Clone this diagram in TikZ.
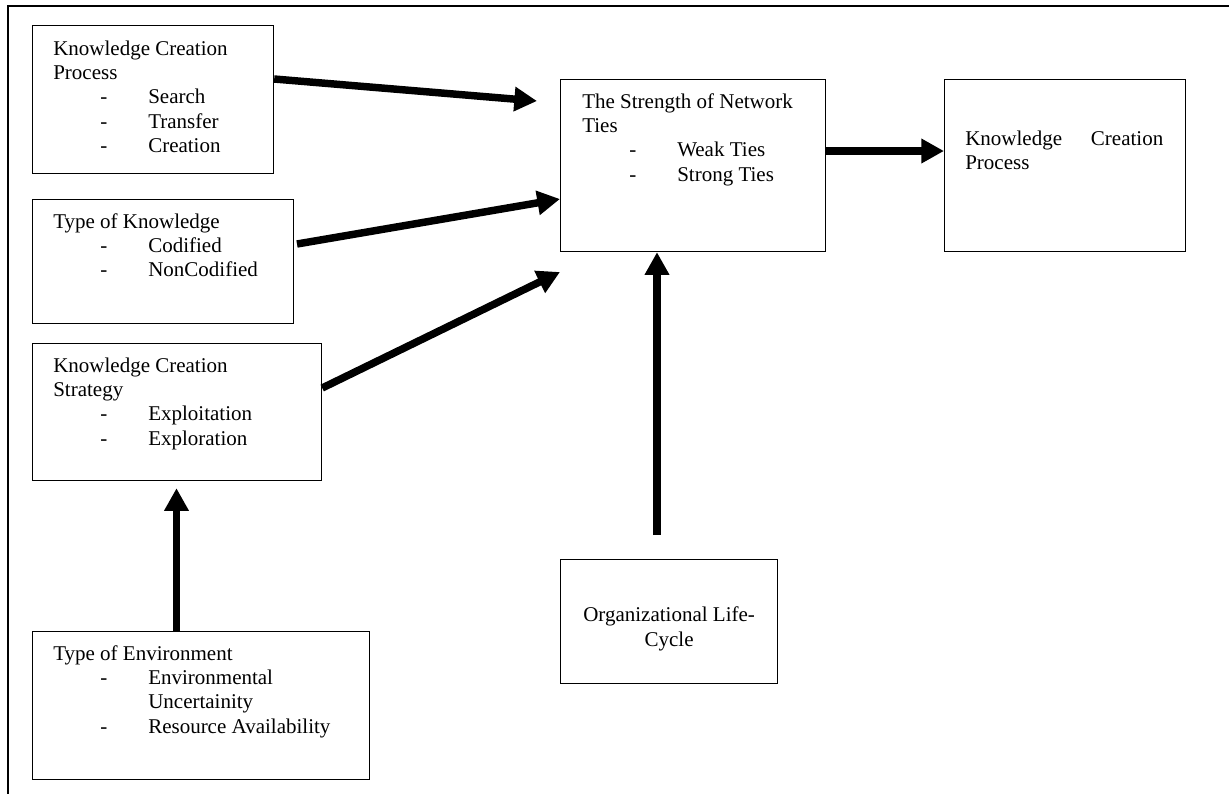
\documentclass[tikz,border=0pt]{standalone}
\usepackage{fontspec}
\setmainfont{Liberation Serif}
\usetikzlibrary{arrows.meta,calc}
\newlength\px
\setlength\px{0.75pt}
\newcommand\itm[1]{\par\noindent\makebox[95\px][l]{\hspace*{47\px}-}#1}
\newcommand\cont[1]{\par\noindent\hspace*{95\px}#1}
\begin{document}
\begin{tikzpicture}[x=0.75pt,y=-0.75pt,
  box/.style={draw, line width=0.9pt, inner sep=0pt, anchor=north west},
  txt/.style={inner sep=0pt, anchor=base west, font=\fontsize{15.75}{18.3}\selectfont},
  conn/.style={line width=5.6pt, -{Triangle[length=17pt,width=17.5pt]}}]
\useasboundingbox (0,0) rectangle (1229,794);
% outer frame (top and left edges visible)
\draw[line width=1pt] (1229,6) -- (8,6) -- (8,794);
% boxes
\node[box, minimum width=241\px, minimum height=148\px] (kcp) at (32,25) {};
\node[box, minimum width=261\px, minimum height=124\px] (tok) at (32,199) {};
\node[box, minimum width=289\px, minimum height=137\px] (kcs) at (32,343) {};
\node[box, minimum width=337\px, minimum height=148\px] (env) at (32,631) {};
\node[box, minimum width=265\px, minimum height=172\px] (str) at (560,79) {};
\node[box, minimum width=241\px, minimum height=172\px] (kcpo) at (944,79) {};
\node[box, minimum width=217\px, minimum height=124\px] (org) at (560,559) {};
% texts
\node[txt] (kcpt) at ($(kcp.north west)+(21,30)$) {\parbox[t]{220\px}{\raggedright Knowledge Creation\par Process\itm{Search}\itm{Transfer}\itm{Creation}}};
\node[txt] (tokt) at ($(tok.north west)+(21,29)$) {\parbox[t]{240\px}{\raggedright Type of Knowledge\itm{Codified}\itm{NonCodified}}};
\node[txt] (kcst) at ($(kcs.north west)+(21,29)$) {\parbox[t]{260\px}{\raggedright Knowledge Creation\par Strategy\itm{Exploitation}\itm{Exploration}}};
\node[txt] (envt) at ($(env.north west)+(21,29)$) {\parbox[t]{310\px}{\raggedright Type of Environment\itm{Environmental}\cont{Uncertainity}\itm{Resource Availability}}};
\node[txt] (strt) at ($(str.north west)+(22,29)$) {\parbox[t]{240\px}{\raggedright The Strength of Network\par Ties\itm{Weak Ties}\itm{Strong Ties}}};
\node[txt] (kcpot) at ($(kcpo.north west)+(21,66)$) {\parbox[t]{198\px}{\noindent Knowledge\hfill Creation\par\noindent Process}};
\node[txt, anchor=base] (orgt) at ($(org.north)+(0,62.7)$) {\parbox[t]{210\px}{\centering Organizational Life-\par Cycle}};
% connector end points
\coordinate (a1e) at (537,101);
\coordinate (a2s) at (297,244);
\coordinate (a3e) at (560,272);
\coordinate (a4s) at (657,535);
% connectors
\draw[conn] ($(kcp.north east)+(0,54)$) -- (a1e);
\draw[conn] (a2s) -- ($(str.north west)+(0,120)$);
\draw[conn] ($(kcs.north east)+(0,45)$) -- (a3e);
\draw[conn] (a4s) -- ($(str.south west)+(97,0)$);
\draw[conn] ($(env.north west)+(144.5,0)$) -- ($(kcs.south west)+(144.5,7)$);
\draw[conn] ($(str.north east)+(0,72)$) -- ($(kcpo.north west)+(0,72)$);
\end{tikzpicture}
\end{document}
